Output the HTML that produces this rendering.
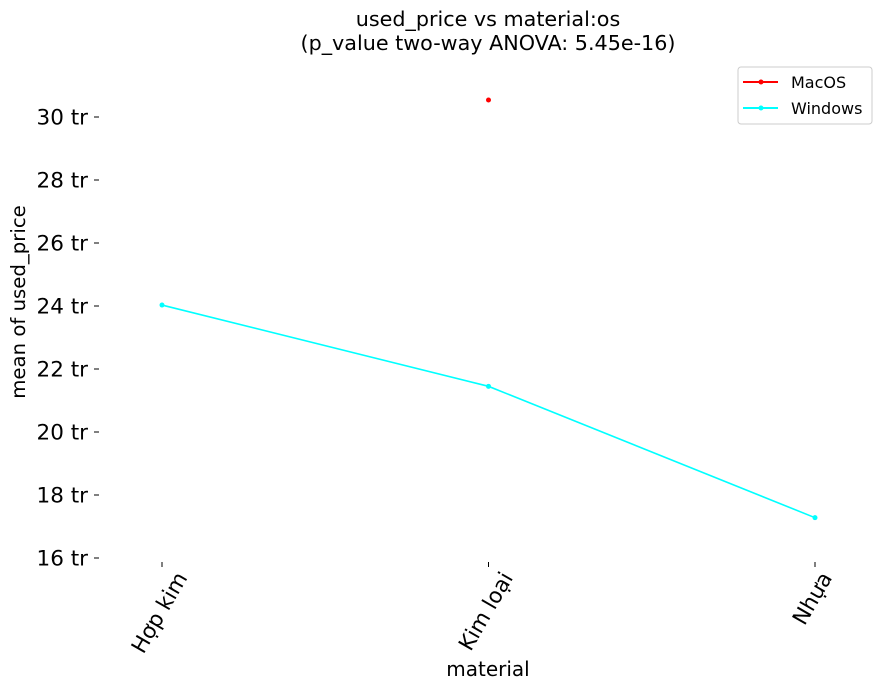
<!DOCTYPE html>
<html><head><meta charset="utf-8"><style>
body{margin:0;background:#fff;}
svg text{font-family:"DejaVu Sans","Liberation Sans",sans-serif;fill:#000;}
</style></head><body>
<svg id="chart" width="889" height="690" viewBox="0 0 889 690">
<text x="488" y="26" font-size="20.7" text-anchor="middle">used_price vs material:os</text>
<text x="488" y="50" font-size="20.7" text-anchor="middle">(p_value two-way ANOVA: 5.45e-16)</text>
<g id="yaxis"></g>
<g id="xaxis"></g>
<text transform="translate(25,302) rotate(-90)" font-size="19.7" text-anchor="middle">mean of used_price</text>
<text x="488" y="676" font-size="20" text-anchor="middle">material</text>
<g id="series"></g>
<g>
<rect x="738" y="67" width="134" height="57" rx="3" fill="#fff" stroke="#ccc"/>
<g>
<line x1="743" y1="82" x2="778" y2="82" stroke="red" stroke-width="2"/><circle cx="761" cy="82" r="2.5" fill="red"/>
<text x="791" y="88" font-size="16">MacOS</text></g>
<g>
<line x1="743" y1="108" x2="778" y2="108" stroke="cyan" stroke-width="2"/><circle cx="761" cy="108" r="2.5" fill="cyan"/>
<text x="791" y="114" font-size="16">Windows</text></g>
</g>
</svg>
<script>
const categories=["Hợp kim","Kim loại","Nhựa"];
const windowsValues=[24.03,21.45,17.28];
const macValues=[null,30.54,null];
const yTicks=[16,18,20,22,24,26,28,30];
const NS="http://www.w3.org/2000/svg";
function y(v){return 558-(v-16)*31.5;}
function x(i){return 162+i*326.5;}
function el(t,a,p){const e=document.createElementNS(NS,t);for(const k in a)e.setAttribute(k,a[k]);p.appendChild(e);return e;}
const ya=document.getElementById('yaxis'),xa=document.getElementById('xaxis'),s=document.getElementById('series');
yTicks.forEach(v=>{
 const l=el('line',{x1:94,x2:99,y1:y(v),y2:y(v),stroke:'#000'},ya);
 
 
 const t=el('text',{x:88,y:y(v)+7.5,'font-size':21.5,'text-anchor':'end'},ya);t.textContent=v+' tr';
 
 
});
categories.forEach((c,i)=>{
 const l=el('line',{x1:x(i),x2:x(i),y1:562,y2:567,stroke:'#000'},xa);
 
 
 const t=el('text',{'font-size':21.5,'text-anchor':'middle','dominant-baseline':'central'},xa);t.textContent=c;
 
 
 const w=t.getComputedTextLength();
 const cy=569+(w*0.866+21.5*0.5)/2;
 t.setAttribute('transform',`translate(${x(i)-2},${cy}) rotate(-60)`);
});
const pts=windowsValues.map((v,i)=>x(i)+','+y(v)).join(' ');
const pl=el('polyline',{points:pts,fill:'none',stroke:'cyan','stroke-width':1.6},s);


windowsValues.forEach((v,i)=>{const c=el('circle',{cx:x(i),cy:y(v),r:2.5,fill:'cyan'},s);
 
 });
macValues.forEach((v,i)=>{if(v==null)return;const c=el('circle',{cx:x(i),cy:y(v),r:2.5,fill:'red'},s);
 
 });
</script>
</body></html>
